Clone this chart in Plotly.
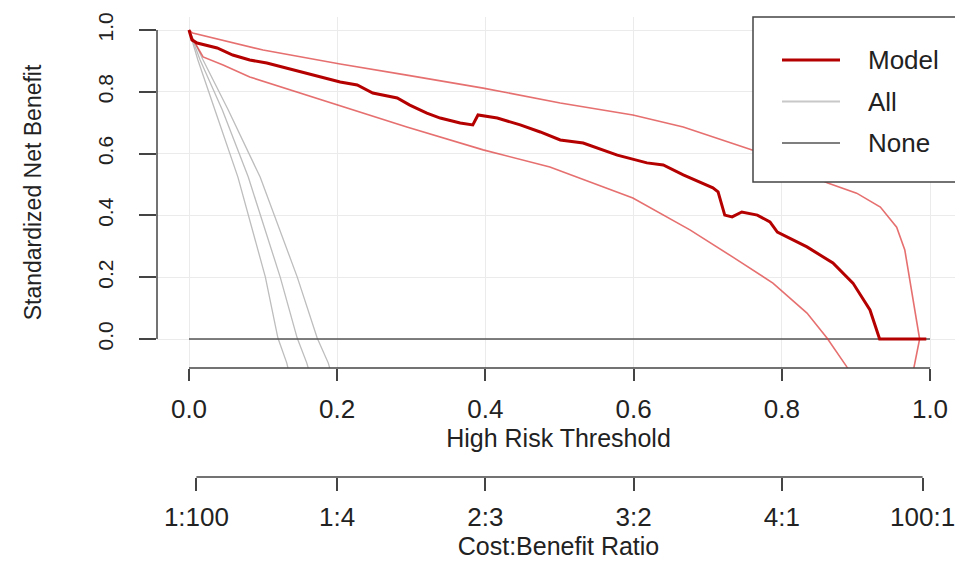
import plotly.graph_objects as go

# ---------------- data ----------------
thr_model = [0, 0.004, 0.011, 0.038, 0.059, 0.082, 0.105, 0.140, 0.181, 0.204, 0.227, 0.248,
             0.281, 0.298, 0.321, 0.339, 0.366, 0.383, 0.390, 0.416, 0.447, 0.474, 0.501,
             0.532, 0.578, 0.618, 0.640, 0.667, 0.707, 0.714, 0.723, 0.733, 0.746, 0.767,
             0.784, 0.794, 0.834, 0.869, 0.896, 0.919, 0.932, 0.995]
snb_model = [1.0, 0.968, 0.958, 0.942, 0.919, 0.903, 0.893, 0.871, 0.845, 0.832, 0.822, 0.796,
             0.780, 0.757, 0.731, 0.715, 0.699, 0.693, 0.725, 0.715, 0.693, 0.670, 0.644,
             0.634, 0.595, 0.570, 0.563, 0.531, 0.489, 0.476, 0.401, 0.395, 0.411, 0.401,
             0.379, 0.346, 0.298, 0.246, 0.181, 0.094, 0.0, 0.0]

thr_model_upper = [0, 0.005, 0.100, 0.204, 0.294, 0.397, 0.501, 0.599, 0.667, 0.760, 0.862,
                   0.901, 0.933, 0.955, 0.966, 0.973, 0.980, 0.986, 0.976]
snb_model_upper = [1.0, 0.990, 0.935, 0.890, 0.854, 0.812, 0.764, 0.725, 0.686, 0.612, 0.505,
                   0.472, 0.427, 0.362, 0.288, 0.191, 0.094, 0.0, -0.12]

thr_model_lower = [0, 0.005, 0.019, 0.046, 0.082, 0.150, 0.204, 0.294, 0.397, 0.487, 0.599,
                   0.676, 0.734, 0.788, 0.834, 0.861, 0.888, 0.897]
snb_model_lower = [1.0, 0.971, 0.913, 0.887, 0.848, 0.796, 0.757, 0.686, 0.612, 0.557, 0.456,
                   0.353, 0.265, 0.181, 0.084, 0.003, -0.091, -0.12]

thr_all = [0, 0.012, 0.035, 0.066, 0.103, 0.120, 0.132, 0.136]
snb_all = [1.0, 0.903, 0.741, 0.524, 0.201, 0.003, -0.078, -0.12]
thr_all_mid = [0, 0.015, 0.045, 0.080, 0.123, 0.146, 0.159, 0.164]
snb_all_mid = [1.0, 0.903, 0.741, 0.524, 0.201, 0.003, -0.078, -0.12]
thr_all_upper = [0, 0.019, 0.053, 0.096, 0.146, 0.173, 0.188, 0.193]
snb_all_upper = [1.0, 0.903, 0.741, 0.524, 0.201, 0.003, -0.078, -0.12]

thr_none = [0, 1]
snb_none = [0, 0]

x_ticks = [0, 0.2, 0.4, 0.6, 0.8, 1.0]
x_ticklabels = ["0.0", "0.2", "0.4", "0.6", "0.8", "1.0"]
y_ticks = [0, 0.2, 0.4, 0.6, 0.8, 1.0]
y_ticklabels = ["0.0", "0.2", "0.4", "0.6", "0.8", "1.0"]
cb_ticks = [0.01, 0.2, 0.4, 0.6, 0.8, 0.99]
cb_ticklabels = ["1:100", "1:4", "2:3", "3:2", "4:1", "100:1"]

legend_names = ["Model", "All", "None"]

# ---------------- styles ----------------
FONT = "Liberation Sans, Arial, sans-serif"
TXT = "#222222"
AX = "#444444"
RED = "#b50000"
RED_CI = "rgba(220,55,55,0.72)"
GREY_ALL = "#bdbdbd"
GREY_NONE = "#555555"
legend_colors = [RED, "#c8c8c8", GREY_NONE]
legend_widths = [3, 1.8, 1.6]

fig = go.Figure()

for tx, ty in [(thr_all, snb_all), (thr_all_mid, snb_all_mid), (thr_all_upper, snb_all_upper)]:
    fig.add_trace(go.Scatter(x=tx, y=ty, mode="lines", name="All",
                             line=dict(color=GREY_ALL, width=1.3), showlegend=False))

fig.add_trace(go.Scatter(x=thr_none, y=snb_none, mode="lines", name="None",
                         line=dict(color=GREY_NONE, width=1.4), showlegend=False))

for tx, ty in [(thr_model_upper, snb_model_upper), (thr_model_lower, snb_model_lower)]:
    fig.add_trace(go.Scatter(x=tx, y=ty, mode="lines", name="Model CI",
                             line=dict(color=RED_CI, width=1.6), showlegend=False))

fig.add_trace(go.Scatter(x=thr_model, y=snb_model, mode="lines", name="Model",
                         line=dict(color=RED, width=3), showlegend=False))

# layout geometry (pixels, in page coordinates; the page body adds an 8px offset)
OFF = 8
W, H = 963 - OFF, 561 - OFF
left_px, right_px, top_px = 157 - OFF, 960 - OFF, 17 - OFF
x2_line_px = 477 - OFF
x_line_px = 368 - OFF
x0_px, x1_px = 189 - OFF, 930 - OFF      # x = 0 and x = 1
y0_px, y1_px = 339 - OFF, 30 - OFF       # y = 0 and y = 1
paper_h = x2_line_px - top_px
paper_w = right_px - left_px
main_bottom = (x2_line_px - x_line_px) / paper_h

xu = x1_px - x0_px
yu = y0_px - y1_px
xr = [-(x0_px - left_px) / xu, 1 + (right_px - x1_px) / xu]
yr = [-(x_line_px - y0_px) / yu, 1 + (y1_px - top_px) / yu]


def px_x(p):
    return (p - OFF - left_px) / paper_w


def px_y(p):
    return (x2_line_px - (p - OFF)) / paper_h


fig.update_layout(
    width=W, height=H,
    margin=dict(l=left_px, r=W - right_px, t=top_px, b=H - x2_line_px, pad=0),
    paper_bgcolor="white", plot_bgcolor="white",
    font=dict(family=FONT, color=TXT),
    showlegend=False,
    xaxis=dict(range=xr, domain=[0, 1], anchor="y", tickvals=x_ticks, ticktext=x_ticklabels,
               ticks="outside", ticklen=12, tickwidth=1.5, tickcolor=AX, automargin=False,
               tickfont=dict(size=26, family=FONT, color=TXT), ticklabelstandoff=6,
               showgrid=True, gridcolor="#ebebeb", gridwidth=1, zeroline=False, showline=False,
               title=dict(text="High Risk Threshold", font=dict(size=25, family=FONT, color=TXT),
                          standoff=6)),
    yaxis=dict(range=yr, domain=[main_bottom, 1], anchor="x", tickvals=y_ticks, ticktext=y_ticklabels,
               ticks="outside", ticklen=17, tickwidth=1.5, tickcolor=AX, tickangle=-90,
               automargin=False,
               tickfont=dict(size=21, family=FONT, color=TXT), ticklabelstandoff=18,
               showgrid=True, gridcolor="#ebebeb", gridwidth=1, zeroline=False, showline=False,
               title=dict(text="Standardized Net Benefit", font=dict(size=23, family=FONT, color=TXT),
                          standoff=45)),
    xaxis2=dict(range=xr, domain=[0, 1], anchor="y2", tickvals=cb_ticks, ticktext=cb_ticklabels,
                ticks="outside", ticklen=13, tickwidth=1.5, tickcolor=AX, automargin=False,
                tickfont=dict(size=26, family=FONT, color=TXT), ticklabelstandoff=4,
                showgrid=False, zeroline=False, showline=False,
                title=dict(text="Cost:Benefit Ratio", font=dict(size=25, family=FONT, color=TXT),
                           standoff=4)),
    yaxis2=dict(domain=[0, 0.002], anchor="x2", visible=False, range=[0, 1]),
)

# dummy trace to activate xaxis2 / yaxis2
fig.add_trace(go.Scatter(x=[None], y=[None], xaxis="x2", yaxis="y2", showlegend=False,
                         hoverinfo="skip"))

# R-style axis lines spanning only first-to-last tick
fig.add_shape(type="line", xref="x", yref="paper", x0=x_ticks[0], x1=x_ticks[-1],
              y0=main_bottom, y1=main_bottom, line=dict(color=AX, width=1.5), layer="above")
fig.add_shape(type="line", xref="paper", yref="y", x0=0, x1=0, y0=y_ticks[0], y1=y_ticks[-1],
              line=dict(color=AX, width=1.5), layer="above")
fig.add_shape(type="line", xref="x", yref="paper", x0=cb_ticks[0], x1=cb_ticks[-1],
              y0=0, y1=0, line=dict(color=AX, width=1.5), layer="above")

# legend box (R-style legend, drawn over the curves)
fig.add_shape(type="rect", xref="paper", yref="paper", x0=px_x(753), x1=px_x(961),
              y0=px_y(182), y1=px_y(17), fillcolor="white", line=dict(color=AX, width=1.5),
              layer="above")
for i, (nm, col, lw) in enumerate(zip(legend_names, legend_colors, legend_widths)):
    yy = px_y(60 + i * 41.5)
    fig.add_shape(type="line", xref="paper", yref="paper", x0=px_x(782), x1=px_x(840),
                  y0=yy, y1=yy, line=dict(color=col, width=lw), layer="above")
    fig.add_annotation(xref="paper", yref="paper", x=px_x(866), y=yy, text=nm,
                       showarrow=False, xanchor="left", yanchor="middle",
                       font=dict(size=26, family=FONT, color=TXT))

fig.write_html("out.html")
